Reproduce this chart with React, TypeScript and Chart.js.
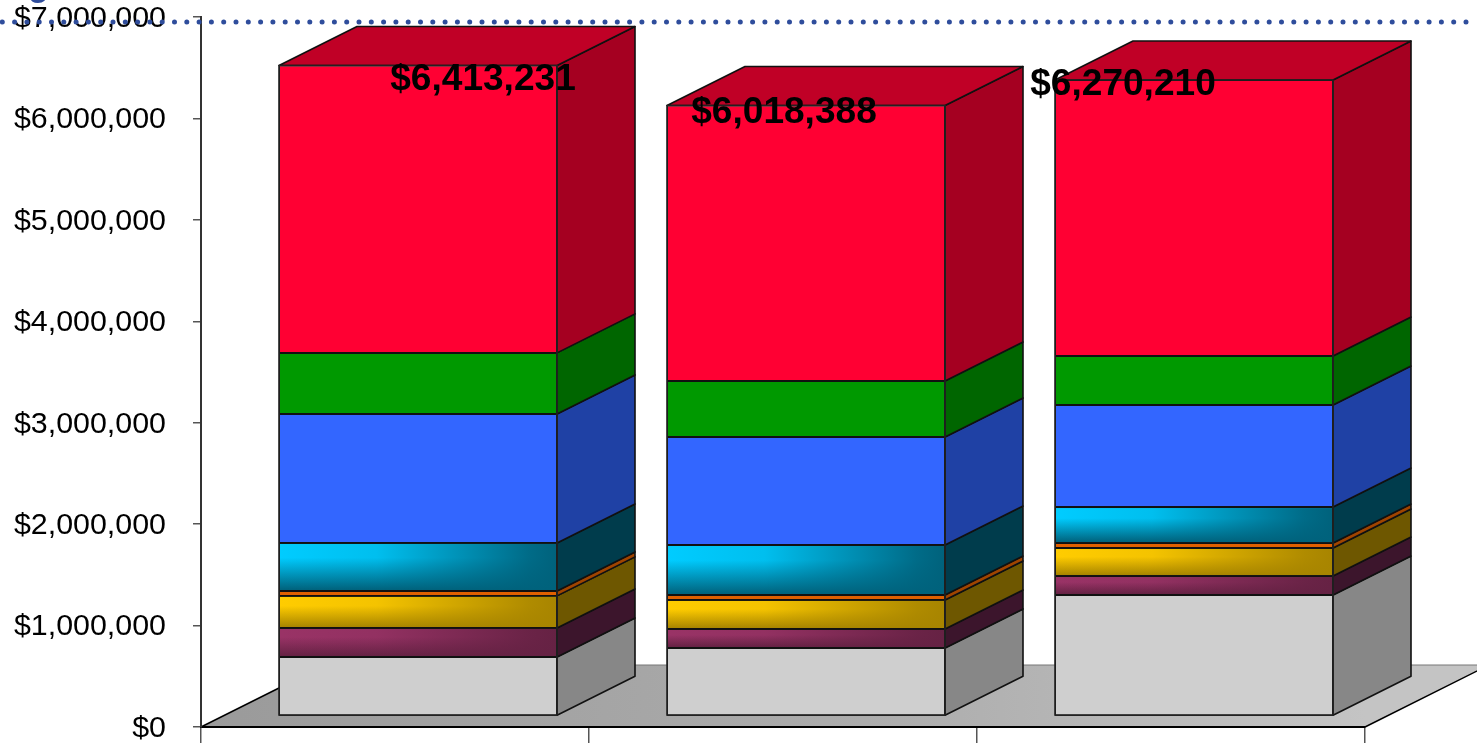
import React, { useEffect, useRef } from "react";
import { Chart, registerables } from "chart.js";

Chart.register(...registerables);

const categories = ["", "", ""];
const tickStep = 1000000;
const axisMax = 7000000;
const totals = [6413231, 6018388, 6270210];

const seriesGray = [582000, 671000, 1193000];
const seriesMaroon = [286000, 187000, 187000];
const seriesGold = [316000, 286000, 276000];
const seriesOrange = [49000, 49000, 49000];
const seriesCyan = [473000, 493000, 355000];
const seriesBlue = [1272000, 1065000, 1006000];
const seriesGreen = [602000, 552000, 483000];
const seriesRed = [2833231, 2715388, 2721210];

const FONT = '"Liberation Sans", Arial, sans-serif';
const SHIFT_X = 23;
const SHIFT_Y = -11;
const DEPTH_X = 78;
const DEPTH_Y = -39;
const FLOOR_X = 124;
const FLOOR_Y = -62;
const labelOffsetX = [65, -22, -71];
const labelOffsetY = [14, 7, 5];

type Look = { data: number[]; front: string; side: string; light?: string; dark?: string };
const looks: Look[] = [
  { data: seriesGray, front: "#cfcfcf", side: "#878787" },
  { data: seriesMaroon, front: "#6a2749", side: "#3c152c", light: "#993366", dark: "#662244" },
  { data: seriesGold, front: "#b08c04", side: "#6e5700", light: "#ffcc00", dark: "#a88500" },
  { data: seriesOrange, front: "#e06000", side: "#a04400" },
  { data: seriesCyan, front: "#006a85", side: "#003c4c", light: "#00ccff", dark: "#00627c" },
  { data: seriesBlue, front: "#3366ff", side: "#1f41a5" },
  { data: seriesGreen, front: "#009900", side: "#006600" },
  { data: seriesRed, front: "#ff0033", side: "#a50021" },
];

const scene = {
  id: "scene3d",
  beforeDraw(chart: any) {
    const { ctx, chartArea: a } = chart;
    ctx.save();
    ctx.beginPath();
    ctx.moveTo(a.left, a.bottom);
    ctx.lineTo(a.left + FLOOR_X, a.bottom + FLOOR_Y);
    ctx.lineTo(a.right + FLOOR_X, a.bottom + FLOOR_Y);
    ctx.lineTo(a.right, a.bottom);
    ctx.closePath();
    const wide = ctx.createLinearGradient(a.left, 0, a.right, 0);
    wide.addColorStop(0, "#9a9a9a");
    wide.addColorStop(0.6, "#adadad");
    wide.addColorStop(1, "#c4c4c4");
    ctx.fillStyle = wide;
    ctx.fill();
    ctx.beginPath();
    ctx.moveTo(a.left + FLOOR_X, a.bottom + FLOOR_Y);
    ctx.lineTo(a.right + FLOOR_X, a.bottom + FLOOR_Y);
    ctx.strokeStyle = "#777777";
    ctx.lineWidth = 1;
    ctx.stroke();
    ctx.beginPath();
    ctx.moveTo(a.left, a.bottom);
    ctx.lineTo(a.left + FLOOR_X, a.bottom + FLOOR_Y);
    ctx.moveTo(a.right, a.bottom);
    ctx.lineTo(a.right + FLOOR_X, a.bottom + FLOOR_Y);
    ctx.strokeStyle = "#000000";
    ctx.lineWidth = 1.5;
    ctx.stroke();
    ctx.restore();
  },
  beforeDatasetsDraw(chart: any) {
    const { ctx } = chart;
    ctx.save();
    ctx.translate(SHIFT_X, SHIFT_Y);
    ctx.lineWidth = 1.6;
    ctx.strokeStyle = "#111111";
    ctx.lineJoin = "round";
    looks.forEach((look, d) => {
      chart.getDatasetMeta(d).data.forEach((bar: any) => {
        const right = bar.x + bar.width / 2;
        const left = bar.x - bar.width / 2;
        ctx.beginPath();
        ctx.moveTo(right, bar.y);
        ctx.lineTo(right + DEPTH_X, bar.y + DEPTH_Y);
        ctx.lineTo(right + DEPTH_X, bar.base + DEPTH_Y);
        ctx.lineTo(right, bar.base);
        ctx.closePath();
        ctx.fillStyle = look.side;
        ctx.fill();
        ctx.stroke();
        if (d === looks.length - 1) {
          ctx.beginPath();
          ctx.moveTo(left, bar.y);
          ctx.lineTo(left + DEPTH_X, bar.y + DEPTH_Y);
          ctx.lineTo(right + DEPTH_X, bar.y + DEPTH_Y);
          ctx.lineTo(right, bar.y);
          ctx.closePath();
          ctx.fillStyle = "#c00026";
          ctx.fill();
          ctx.stroke();
        }
      });
    });
  },
  afterDatasetsDraw(chart: any) {
    const { ctx, scales } = chart;
    looks.forEach((look, d) => {
      if (!look.light) return;
      chart.getDatasetMeta(d).data.forEach((bar: any) => {
        const left = bar.x - bar.width / 2 + 1;
        const w = bar.width - 2;
        const top = bar.y + 1;
        const h = bar.base - bar.y - 2;
        const v = ctx.createLinearGradient(0, top, 0, top + h);
        v.addColorStop(0, look.light);
        v.addColorStop(0.3, look.light);
        v.addColorStop(1, look.dark);
        ctx.fillStyle = v;
        ctx.fillRect(left, top, w, h);
        const hz = ctx.createLinearGradient(left, 0, left + w, 0);
        hz.addColorStop(0, look.dark + "00");
        hz.addColorStop(0.35, look.dark + "20");
        hz.addColorStop(0.9, look.dark + "e8");
        hz.addColorStop(1, look.dark);
        ctx.fillStyle = hz;
        ctx.fillRect(left, top, w, h);
      });
    });
    // Outer outline of each whole stack, from the elements' own geometry.
    const firstMeta = chart.getDatasetMeta(0).data;
    const lastMeta = chart.getDatasetMeta(looks.length - 1).data;
    ctx.strokeStyle = "#222222";
    ctx.lineWidth = 1.6;
    firstMeta.forEach((bar: any, i: number) => {
      ctx.strokeRect(bar.x - bar.width / 2, lastMeta[i].y, bar.width, bar.base - lastMeta[i].y);
    });
    ctx.restore();

    ctx.save();
    ctx.fillStyle = "#000000";
    ctx.font = `bold 37.1px ${FONT}`;
    ctx.textAlign = "center";
    ctx.textBaseline = "middle";
    totals.forEach((total, i) => {
      const x = scales.x.getPixelForValue(i) + SHIFT_X + labelOffsetX[i];
      const y = scales.y.getPixelForValue(total) + SHIFT_Y + labelOffsetY[i];
      ctx.fillText("$" + total.toLocaleString("en-US"), x, y);
    });
    ctx.restore();
  },
  afterDraw(chart: any) {
    const { ctx, width } = chart;
    ctx.save();
    ctx.beginPath();
    ctx.setLineDash([0, 12.3]);
    ctx.lineCap = "round";
    ctx.lineWidth = 5;
    ctx.strokeStyle = "#2f4d9c";
    ctx.moveTo(2.3, 22);
    ctx.lineTo(width, 22);
    ctx.stroke();
    ctx.fillStyle = "#2f4d9c";
    ctx.font = `bold 34px ${FONT}`;
    ctx.textAlign = "left";
    ctx.textBaseline = "alphabetic";
    ctx.fillText("g", 28, -4);
    ctx.restore();
  },
};

export default function App() {
  const ref = useRef<HTMLCanvasElement>(null);
  useEffect(() => {
    const chart = new Chart(ref.current as HTMLCanvasElement, {
      type: "bar",
      data: {
        labels: categories,
        datasets: looks.map((look) => ({
          data: look.data,
          backgroundColor: look.front,
          borderColor: "#111111",
          borderWidth: 1,
          borderSkipped: false,
          categoryPercentage: 1,
          barPercentage: 0.7165,
          clip: false as any,
        })),
      },
      options: {
        animation: false,
        responsive: false,
        devicePixelRatio: 1,
        layout: { padding: { left: 0, top: 17, right: 112, bottom: 0 } },
        plugins: { legend: { display: false }, tooltip: { enabled: false } },
        scales: {
          x: {
            stacked: true,
            afterFit: (s: any) => { s.height = 16; s.paddingTop = 0; s.paddingBottom = 0; s.paddingLeft = 0; s.paddingRight = 0; },
            ticks: { display: false },
            border: { color: "#000000", width: 2 },
            grid: { drawOnChartArea: false, drawTicks: true, tickLength: 16, color: "#555555", lineWidth: 1.5 },
          },
          y: {
            stacked: true,
            min: 0,
            max: axisMax,
            afterFit: (s: any) => { s.width = 201; s.paddingTop = 0; s.paddingBottom = 0; },
            ticks: {
              stepSize: tickStep,
              padding: 27,
              labelOffset: 1.5,
              color: "#000000",
              font: { family: FONT, size: 30.4 },
              callback: (v: any) => "$" + Number(v).toLocaleString("en-US"),
            },
            border: { color: "#333333", width: 2 },
            grid: { drawOnChartArea: false, drawTicks: true, tickLength: 8, color: "#555555", lineWidth: 1.5 },
          },
        },
      },
      plugins: [scene],
    } as any);
    return () => chart.destroy();
  }, []);
  return (
    <canvas
      ref={ref}
      width={1477}
      height={743}
      style={{ position: "fixed", left: 0, top: 0, display: "block", width: 1477, height: 743 }}
    />
  );
}
